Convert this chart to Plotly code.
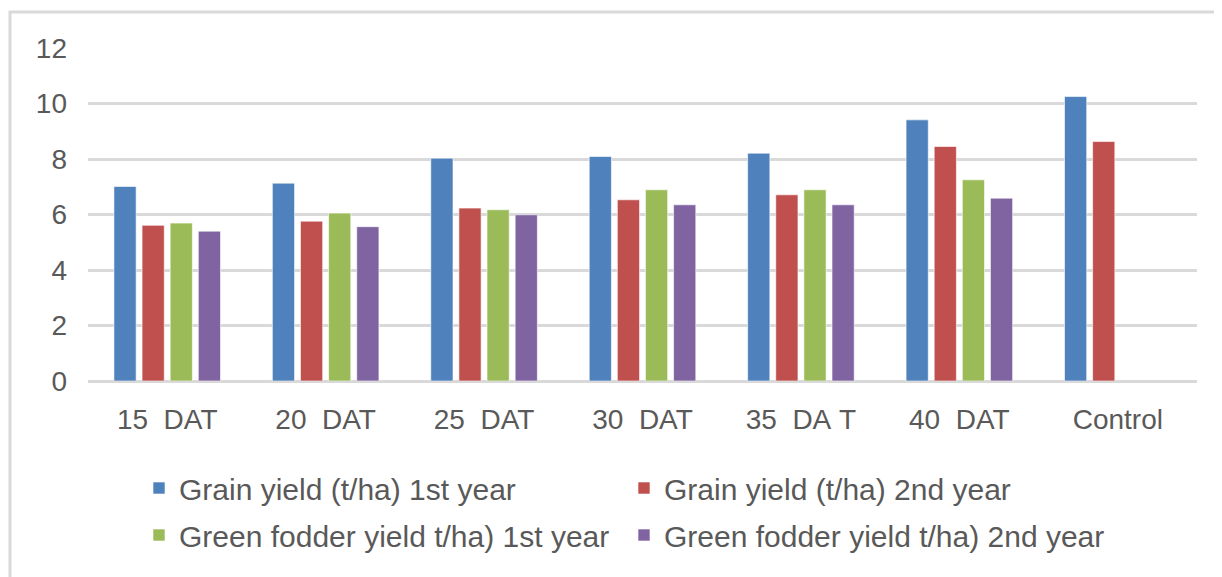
import plotly.graph_objects as go

categories = ["15\u00a0\u00a0DAT", "20\u00a0\u00a0DAT", "25\u00a0\u00a0DAT", "30\u00a0\u00a0DAT",
              "35\u00a0\u00a0DA\u00a0T", "40\u00a0\u00a0DAT", "Control"]
grain_1st = [7.01, 7.13, 8.03, 8.09, 8.21, 9.41, 10.25]
grain_2nd = [5.61, 5.76, 6.23, 6.53, 6.71, 8.45, 8.63]
fodder_1st = [5.69, 6.05, 6.17, 6.89, 6.89, 7.25, None]
fodder_2nd = [5.40, 5.56, 5.99, 6.35, 6.35, 6.59, None]
series_names = ["Grain yield (t/ha) 1st year", "Grain yield (t/ha) 2nd year",
                "Green fodder yield t/ha) 1st year", "Green fodder yield t/ha) 2nd year"]
colors = ["#4F81BD", "#C0504D", "#9BBB59", "#8064A2"]
legend_ids = ["legend", "legend", "legend2", "legend2"]
y_ticks = [0, 2, 4, 6, 8, 10, 12]

fig = go.Figure()
for name, vals, col, lg in zip(series_names, [grain_1st, grain_2nd, fodder_1st, fodder_2nd],
                               colors, legend_ids):
    fig.add_trace(go.Bar(
        x=categories, y=vals, name=name, legend=lg,
        marker=dict(color=col, line=dict(color="rgba(255,255,255,0.6)", width=1)),
    ))

# page body has an 8px margin, so the figure is offset by (8, 8)
W, H = 1214, 569
L, T, R, B = 80, 40, 25, 196
plot_h = H - T - B
plot_w = W - L - R

font_family = "Liberation Sans, Arial, sans-serif"
legend_common = dict(orientation="h", x=0.046, xanchor="left", yanchor="middle",
                     entrywidth=440, entrywidthmode="pixels",
                     font=dict(size=30, color="#595959"), itemwidth=30,
                     bgcolor="rgba(0,0,0,0)")
fig.update_layout(
    width=W, height=H,
    margin=dict(l=L, r=R, t=T, b=B, autoexpand=False),
    paper_bgcolor="white", plot_bgcolor="white",
    barmode="group", bargap=0.29, bargroupgap=0.21,
    font=dict(family=font_family, size=28, color="#595959"),
    showlegend=True,
    legend=dict(**legend_common, y=-107 / plot_h),
    legend2=dict(**legend_common, y=-154 / plot_h),
    xaxis=dict(showline=False, ticks="", tickfont=dict(size=28, color="#595959"),
               showgrid=False, ticklabelstandoff=19),
    yaxis=dict(range=[0, 12], tickvals=y_ticks, showgrid=True, gridcolor="#D9D9D9",
               gridwidth=3, zeroline=True, zerolinecolor="#D9D9D9", zerolinewidth=3,
               showline=False, ticks="", tickfont=dict(size=28, color="#595959"),
               ticklabelstandoff=20),
    shapes=[dict(type="rect", xref="paper", yref="paper",
                 x0=-78 / plot_w, x1=(W + 20 - L) / plot_w,
                 y0=-(B + 40) / plot_h, y1=(plot_h + 36) / plot_h,
                 line=dict(color="#D9D9D9", width=3), fillcolor="rgba(0,0,0,0)", layer="below")],
)

fig.write_html("out.html")
